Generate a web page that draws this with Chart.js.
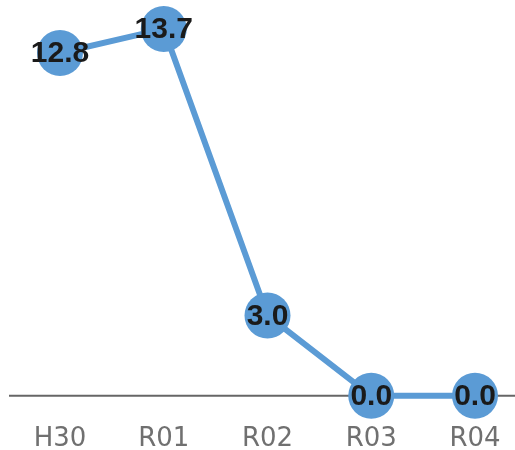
<!DOCTYPE html>
<html>
<head>
<meta charset="utf-8">
<script src="https://cdn.jsdelivr.net/npm/chart.js@4"></script>
<style>
  html, body { margin: 0; padding: 0; background: #fff; }
  #wrap { width: 515px; height: 450px; }
</style>
</head>
<body>
<div id="wrap"><canvas id="lineChart"></canvas></div>
<script>
// Data
const categories = ['H30', 'R01', 'R02', 'R03', 'R04'];
const values = [12.8, 13.7, 3.0, 0.0, 0.0];

const lineColor = '#5b9bd5';

// baseline across the full width at value 0
const baselinePlugin = {
    id: 'baseline',
    beforeDatasetsDraw(chart) {
        const ctx = chart.ctx;
        const y = chart.scales.y.getPixelForValue(0);
        ctx.save();
        ctx.strokeStyle = '#666666';
        ctx.lineWidth = 2;
        ctx.beginPath();
        ctx.moveTo(9, y);
        ctx.lineTo(chart.width, y);
        ctx.stroke();
        ctx.restore();
    }
};

// value labels centred on the points
const valueLabels = {
    id: 'valueLabels',
    afterDatasetsDraw(chart) {
        const ctx = chart.ctx;
        const meta = chart.getDatasetMeta(0);
        ctx.save();
        ctx.font = 'bold 30px "Liberation Sans"';
        ctx.fillStyle = '#1a1a1a';
        ctx.textAlign = 'center';
        ctx.textBaseline = 'middle';
        meta.data.forEach((pt, i) => {
            ctx.fillText(values[i].toFixed(1), pt.x, pt.y + 1);
        });
        ctx.restore();
    }
};

new Chart(document.getElementById('lineChart'), {
    type: 'line',
    data: {
        labels: categories,
        datasets: [{
            data: values,
            borderColor: lineColor,
            backgroundColor: lineColor,
            borderWidth: 6,
            pointRadius: 23,
            pointHoverRadius: 23,
            pointBorderWidth: 0,
            tension: 0,
            clip: false
        }]
    },
    options: {
        responsive: true,
        maintainAspectRatio: false,
        animation: false,
        layout: {
            autoPadding: false,
            padding: { left: 60, right: 40, top: 0, bottom: -33 }
        },
        scales: {
            x: {
                offset: false,
                grid: { display: false, drawTicks: false },
                border: { display: false },
                ticks: {
                    color: '#707070',
                    font: { family: 'DejaVu Sans', size: 26 },
                    padding: 28,
                    maxRotation: 0
                },
                afterFit(scale) {
                    // keep the label overhang from shrinking the plot area
                    scale.paddingLeft = 0;
                    scale.paddingRight = 0;
                }
            },
            y: {
                display: false,
                min: 0,
                max: 14.78
            }
        },
        plugins: {
            legend: { display: false },
            tooltip: { enabled: false }
        }
    },
    plugins: [baselinePlugin, valueLabels]
});
</script>
</body>
</html>
